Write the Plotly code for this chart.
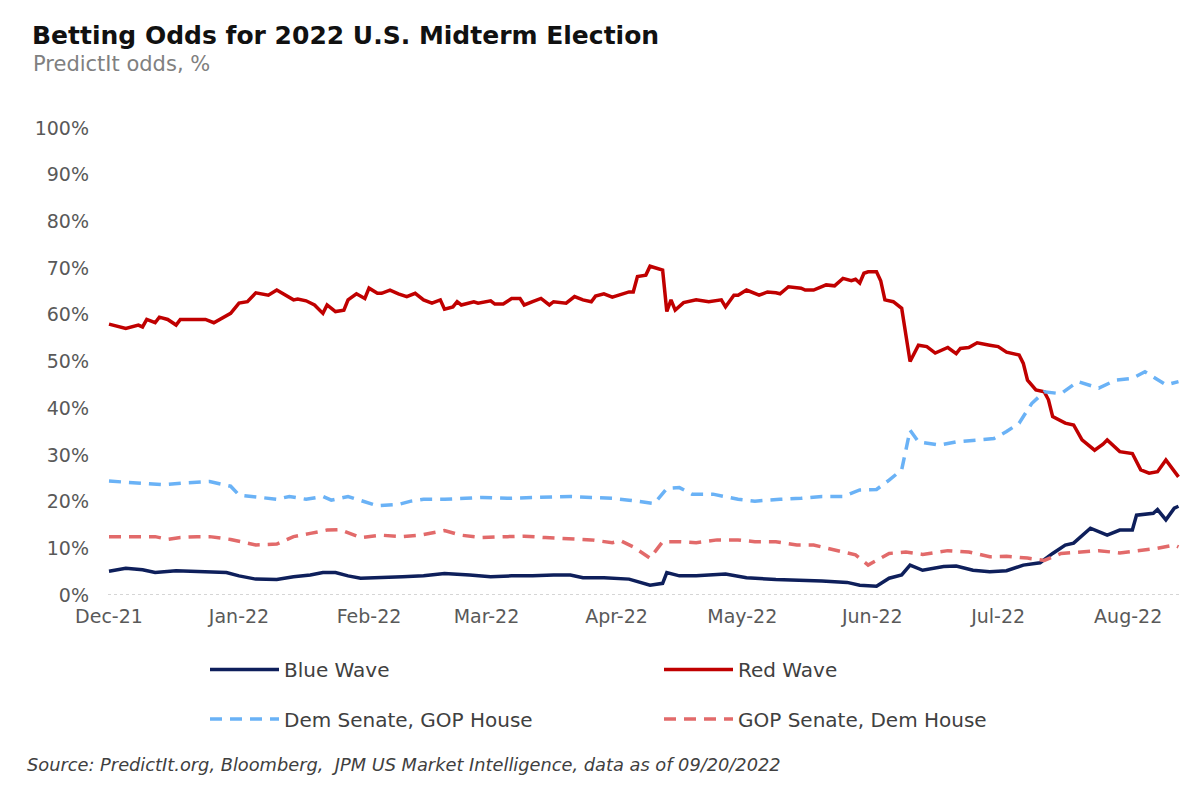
import plotly.graph_objects as go

red_dates = ["2021-12-01", "2021-12-05", "2021-12-08", "2021-12-09", "2021-12-10", "2021-12-12", "2021-12-13",
             "2021-12-15", "2021-12-17", "2021-12-18", "2021-12-20", "2021-12-24", "2021-12-26", "2021-12-28",
             "2021-12-30", "2022-01-01", "2022-01-03", "2022-01-05", "2022-01-08", "2022-01-10", "2022-01-12",
             "2022-01-14", "2022-01-15", "2022-01-17", "2022-01-19", "2022-01-21", "2022-01-22", "2022-01-24",
             "2022-01-26", "2022-01-27", "2022-01-29", "2022-01-31", "2022-02-01", "2022-02-03", "2022-02-04",
             "2022-02-06", "2022-02-08", "2022-02-10", "2022-02-12", "2022-02-14", "2022-02-16", "2022-02-18",
             "2022-02-19", "2022-02-21", "2022-02-22", "2022-02-23", "2022-02-26", "2022-02-27", "2022-03-02",
             "2022-03-03", "2022-03-05", "2022-03-07", "2022-03-09", "2022-03-10", "2022-03-12", "2022-03-14",
             "2022-03-16", "2022-03-17", "2022-03-20", "2022-03-22", "2022-03-24", "2022-03-26", "2022-03-27",
             "2022-03-29", "2022-03-31", "2022-04-04", "2022-04-05", "2022-04-06", "2022-04-08", "2022-04-09",
             "2022-04-12", "2022-04-13", "2022-04-14", "2022-04-15", "2022-04-17", "2022-04-20", "2022-04-23",
             "2022-04-26", "2022-04-27", "2022-04-29", "2022-04-30", "2022-05-02", "2022-05-05", "2022-05-07",
             "2022-05-09", "2022-05-10", "2022-05-12", "2022-05-15", "2022-05-16", "2022-05-18", "2022-05-21",
             "2022-05-23", "2022-05-25", "2022-05-27", "2022-05-28", "2022-05-29", "2022-05-30", "2022-05-31",
             "2022-06-02", "2022-06-03", "2022-06-04", "2022-06-06", "2022-06-08", "2022-06-09", "2022-06-10",
             "2022-06-12", "2022-06-14", "2022-06-16", "2022-06-19", "2022-06-21", "2022-06-22", "2022-06-24",
             "2022-06-26", "2022-06-29", "2022-07-01", "2022-07-03", "2022-07-06", "2022-07-07", "2022-07-08",
             "2022-07-10", "2022-07-12", "2022-07-13", "2022-07-14", "2022-07-17", "2022-07-19", "2022-07-21",
             "2022-07-24", "2022-07-26", "2022-07-27", "2022-07-30", "2022-08-02", "2022-08-04", "2022-08-06",
             "2022-08-08", "2022-08-10", "2022-08-13"]
red_wave = [58.0, 57.1, 57.8, 57.4, 59.0, 58.3, 59.5, 59.0, 57.8, 59.0, 59.0, 59.0, 58.3, 59.2, 60.3,
            62.5, 62.8, 64.7, 64.2, 65.3, 64.2, 63.2, 63.4, 63.0, 62.1, 60.3, 62.1, 60.7, 61.0, 63.2,
            64.5, 63.5, 65.7, 64.6, 64.6, 65.3, 64.5, 63.9, 64.6, 63.2, 62.5, 63.2, 61.2, 61.7, 62.8,
            62.1, 62.8, 62.5, 63.0, 62.3, 62.3, 63.5, 63.5, 62.1, 62.8, 63.5, 62.1, 62.8, 62.5, 63.9,
            63.2, 62.8, 64.0, 64.5, 63.8, 64.9, 64.9, 68.2, 68.5, 70.4, 69.6, 60.7, 63.2, 61.0, 62.6,
            63.2, 62.8, 63.2, 61.7, 64.2, 64.2, 65.3, 64.2, 64.9, 64.7, 64.5, 66.0, 65.7, 65.3, 65.3,
            66.4, 66.2, 67.8, 67.3, 67.6, 66.8, 68.9, 69.2, 69.2, 67.3, 63.2, 62.8, 61.4, 55.3, 50.0,
            53.5, 53.2, 51.8, 53.0, 51.7, 52.8, 53.0, 54.0, 53.5, 53.2, 52.0, 51.4, 49.6, 46.0, 43.9,
            43.5, 41.8, 38.2, 36.8, 36.4, 33.2, 31.0, 32.3, 33.2, 30.7, 30.3, 26.8, 26.1, 26.4, 28.9,
            25.3]

dem_dates = ["2021-12-01", "2021-12-09", "2021-12-14", "2021-12-19", "2021-12-25", "2021-12-30", "2022-01-01",
             "2022-01-04", "2022-01-10", "2022-01-13", "2022-01-17", "2022-01-21", "2022-01-23", "2022-01-27",
             "2022-01-30", "2022-02-03", "2022-02-08", "2022-02-11", "2022-02-14", "2022-02-19", "2022-02-24",
             "2022-02-28", "2022-03-06", "2022-03-12", "2022-03-16", "2022-03-21", "2022-03-26", "2022-03-31",
             "2022-04-04", "2022-04-10", "2022-04-13", "2022-04-16", "2022-04-19", "2022-04-24", "2022-04-30",
             "2022-05-04", "2022-05-10", "2022-05-15", "2022-05-20", "2022-05-25", "2022-05-29", "2022-06-02",
             "2022-06-05", "2022-06-08", "2022-06-09", "2022-06-10", "2022-06-12", "2022-06-17", "2022-06-21",
             "2022-06-26", "2022-06-30", "2022-07-03", "2022-07-06", "2022-07-08", "2022-07-09", "2022-07-12",
             "2022-07-16", "2022-07-20", "2022-07-25", "2022-07-29", "2022-08-02", "2022-08-05", "2022-08-08",
             "2022-08-10", "2022-08-13"]
dem_senate_gop_house = [24.4, 23.8, 23.6, 24.0, 24.3, 23.3, 21.4, 21.1, 20.5, 21.1, 20.5, 21.1, 20.3, 21.1, 20.3,
                        19.1, 19.4, 20.1, 20.5, 20.5, 20.7, 20.9, 20.7, 20.9, 21.1, 21.1, 20.9, 20.7, 20.3, 19.6,
                        22.8, 23.0, 21.6, 21.6, 20.5, 20.1, 20.5, 20.7, 21.1, 21.1, 22.5, 22.6, 24.6, 26.8, 31.0,
                        35.3, 32.8, 32.1, 32.8, 33.2, 33.5, 35.0, 36.8, 39.6, 41.0, 43.5, 43.1, 45.7, 44.3, 46.0,
                        46.4, 47.8, 46.0, 45.0, 45.7]

gop_dates = ["2021-12-01", "2021-12-07", "2021-12-12", "2021-12-15", "2021-12-18", "2021-12-22", "2021-12-25",
             "2021-12-30", "2022-01-05", "2022-01-10", "2022-01-14", "2022-01-18", "2022-01-22", "2022-01-25",
             "2022-01-27", "2022-01-30", "2022-02-04", "2022-02-09", "2022-02-13", "2022-02-19", "2022-02-23",
             "2022-02-28", "2022-03-06", "2022-03-10", "2022-03-15", "2022-03-21", "2022-03-26", "2022-03-31",
             "2022-04-02", "2022-04-05", "2022-04-09", "2022-04-12", "2022-04-16", "2022-04-20", "2022-04-25",
             "2022-04-30", "2022-05-04", "2022-05-09", "2022-05-14", "2022-05-18", "2022-05-23", "2022-05-28",
             "2022-05-31", "2022-06-05", "2022-06-09", "2022-06-13", "2022-06-19", "2022-06-24", "2022-06-29",
             "2022-07-03", "2022-07-08", "2022-07-12", "2022-07-16", "2022-07-20", "2022-07-25", "2022-07-30",
             "2022-08-03", "2022-08-08", "2022-08-12", "2022-08-13"]
gop_senate_dem_house = [12.5, 12.6, 12.5, 11.9, 12.3, 12.5, 12.5, 11.9, 10.7, 10.9, 12.5, 13.2, 13.9, 14.0, 13.3,
                        12.3, 12.8, 12.5, 12.8, 13.8, 12.8, 12.3, 12.5, 12.6, 12.3, 12.1, 11.8, 11.2, 11.6, 10.3,
                        7.9, 11.4, 11.4, 11.2, 11.8, 11.8, 11.4, 11.4, 10.7, 10.7, 9.6, 8.6, 6.4, 8.9, 9.2,
                        8.7, 9.5, 9.2, 8.2, 8.3, 7.9, 7.4, 8.9, 9.2, 9.5, 9.0, 9.5, 10.0, 10.7, 10.3]

blue_dates = ["2021-12-01", "2021-12-05", "2021-12-09", "2021-12-12", "2021-12-17", "2021-12-22", "2021-12-26",
              "2021-12-29", "2022-01-01", "2022-01-05", "2022-01-10", "2022-01-14", "2022-01-18", "2022-01-21",
              "2022-01-24", "2022-01-27", "2022-01-30", "2022-02-04", "2022-02-09", "2022-02-14", "2022-02-19",
              "2022-02-25", "2022-03-02", "2022-03-07", "2022-03-12", "2022-03-17", "2022-03-21", "2022-03-24",
              "2022-03-29", "2022-04-04", "2022-04-09", "2022-04-12", "2022-04-13", "2022-04-16", "2022-04-20",
              "2022-04-27", "2022-05-02", "2022-05-09", "2022-05-15", "2022-05-20", "2022-05-26", "2022-05-29",
              "2022-06-02", "2022-06-05", "2022-06-08", "2022-06-10", "2022-06-13", "2022-06-18", "2022-06-21",
              "2022-06-25", "2022-06-29", "2022-07-03", "2022-07-07", "2022-07-11", "2022-07-14", "2022-07-17",
              "2022-07-19", "2022-07-23", "2022-07-27", "2022-07-30", "2022-08-02", "2022-08-03", "2022-08-07",
              "2022-08-08", "2022-08-10", "2022-08-12", "2022-08-13"]
blue_wave = [5.1, 5.7, 5.4, 4.8, 5.2, 5.0, 5.0, 4.8, 4.1, 3.4, 3.3, 3.9, 4.3, 4.8, 4.8,
             4.1, 3.6, 3.7, 3.9, 4.1, 4.6, 4.3, 3.9, 4.1, 4.1, 4.3, 4.3, 3.7, 3.7, 3.4,
             2.1, 2.5, 4.8, 4.1, 4.1, 4.5, 3.7, 3.3, 3.2, 3.0, 2.7, 2.1, 1.9, 3.6, 4.3,
             6.4, 5.3, 6.1, 6.2, 5.3, 5.0, 5.2, 6.4, 6.9, 8.9, 10.7, 11.1, 14.3, 12.8, 13.9,
             13.9, 17.1, 17.5, 18.3, 16.1, 18.6, 19.0]

y_ticks = [0, 10, 20, 30, 40, 50, 60, 70, 80, 90, 100]
y_labels = [f"{v}%" for v in y_ticks]

FONT = "DejaVu Sans, Liberation Sans, Arial, sans-serif"
NAVY = "#0E1F5B"
RED = "#C00000"
LBLUE = "#6AB2F6"
LRED = "#E26A6A"

# plot area geometry (px inside the figure)
L, R, T, B = 100, 28, 120, 213
PW, PH = 1200 - L - R, 800 - T - B


def px(x):
    return (x - L) / PW


def py(y):
    return (800 - B - y) / PH


fig = go.Figure()
fig.add_trace(go.Scatter(x=blue_dates, y=blue_wave, mode="lines", name="Blue Wave",
                         line=dict(color=NAVY, width=3.5), legend="legend"))
fig.add_trace(go.Scatter(x=red_dates, y=red_wave, mode="lines", name="Red Wave",
                         line=dict(color=RED, width=3.5), legend="legend"))
fig.add_trace(go.Scatter(x=dem_dates, y=dem_senate_gop_house, mode="lines", name="Dem Senate, GOP House",
                         line=dict(color=LBLUE, width=3.5, dash="12px,8px"), legend="legend2"))
fig.add_trace(go.Scatter(x=gop_dates, y=gop_senate_dem_house, mode="lines", name="GOP Senate, Dem House",
                         line=dict(color=LRED, width=3.5, dash="12px,8px"), legend="legend2"))

fig.add_hline(y=0, line=dict(color="#C8C8C8", width=1.5, dash="dot"), layer="below")

legend_common = dict(orientation="h", xanchor="left", yanchor="middle",
                     font=dict(family=FONT, size=20, color="#404040"),
                     itemwidth=69, entrywidth=370, bgcolor="rgba(0,0,0,0)",
                     traceorder="normal")

fig.update_layout(
    width=1200, height=800,
    paper_bgcolor="white", plot_bgcolor="white",
    margin=dict(l=L, r=R, t=T, b=B, autoexpand=False),
    font=dict(family=FONT, color="#595959"),
    title=dict(text="<b>Betting Odds for 2022 U.S. Midterm Election</b>",
               x=24 / 1200, xanchor="left", y=1 - 27 / 800, yanchor="middle",
               font=dict(family=FONT, size=25, color="#111111")),
    showlegend=True,
    legend=dict(x=px(197), y=py(661.5), **legend_common),
    legend2=dict(x=px(197), y=py(711), **legend_common),
    xaxis=dict(type="date", range=["2021-11-30 18:17", "2022-08-13 08:40"],
               tick0="2021-12-01", dtick="M1", tickformat="%b-%y",
               showgrid=False, zeroline=False, showline=False, ticks="", automargin=False,
               ticklabelstandoff=8,
               tickfont=dict(family=FONT, size=19, color="#595959")),
    yaxis=dict(range=[0, 100], tickmode="array", tickvals=y_ticks, ticktext=y_labels,
               showgrid=False, zeroline=False, showline=False, ticks="", automargin=False,
               ticklabelstandoff=18,
               tickfont=dict(family=FONT, size=19, color="#595959")),
    annotations=[
        dict(text="PredictIt odds, %", xref="paper", yref="paper",
             x=px(23), y=py(55.5), xanchor="left", yanchor="middle", showarrow=False,
             font=dict(family=FONT, size=21, color="#808080")),
        dict(text="<i>Source: PredictIt.org, Bloomberg,  JPM US Market Intelligence, data as of 09/20/2022</i>",
             xref="paper", yref="paper", x=px(17), y=py(756),
             xanchor="left", yanchor="middle",
             showarrow=False, font=dict(family=FONT, size=17.8, color="#404040")),
    ],
)

fig.write_html("out.html")
